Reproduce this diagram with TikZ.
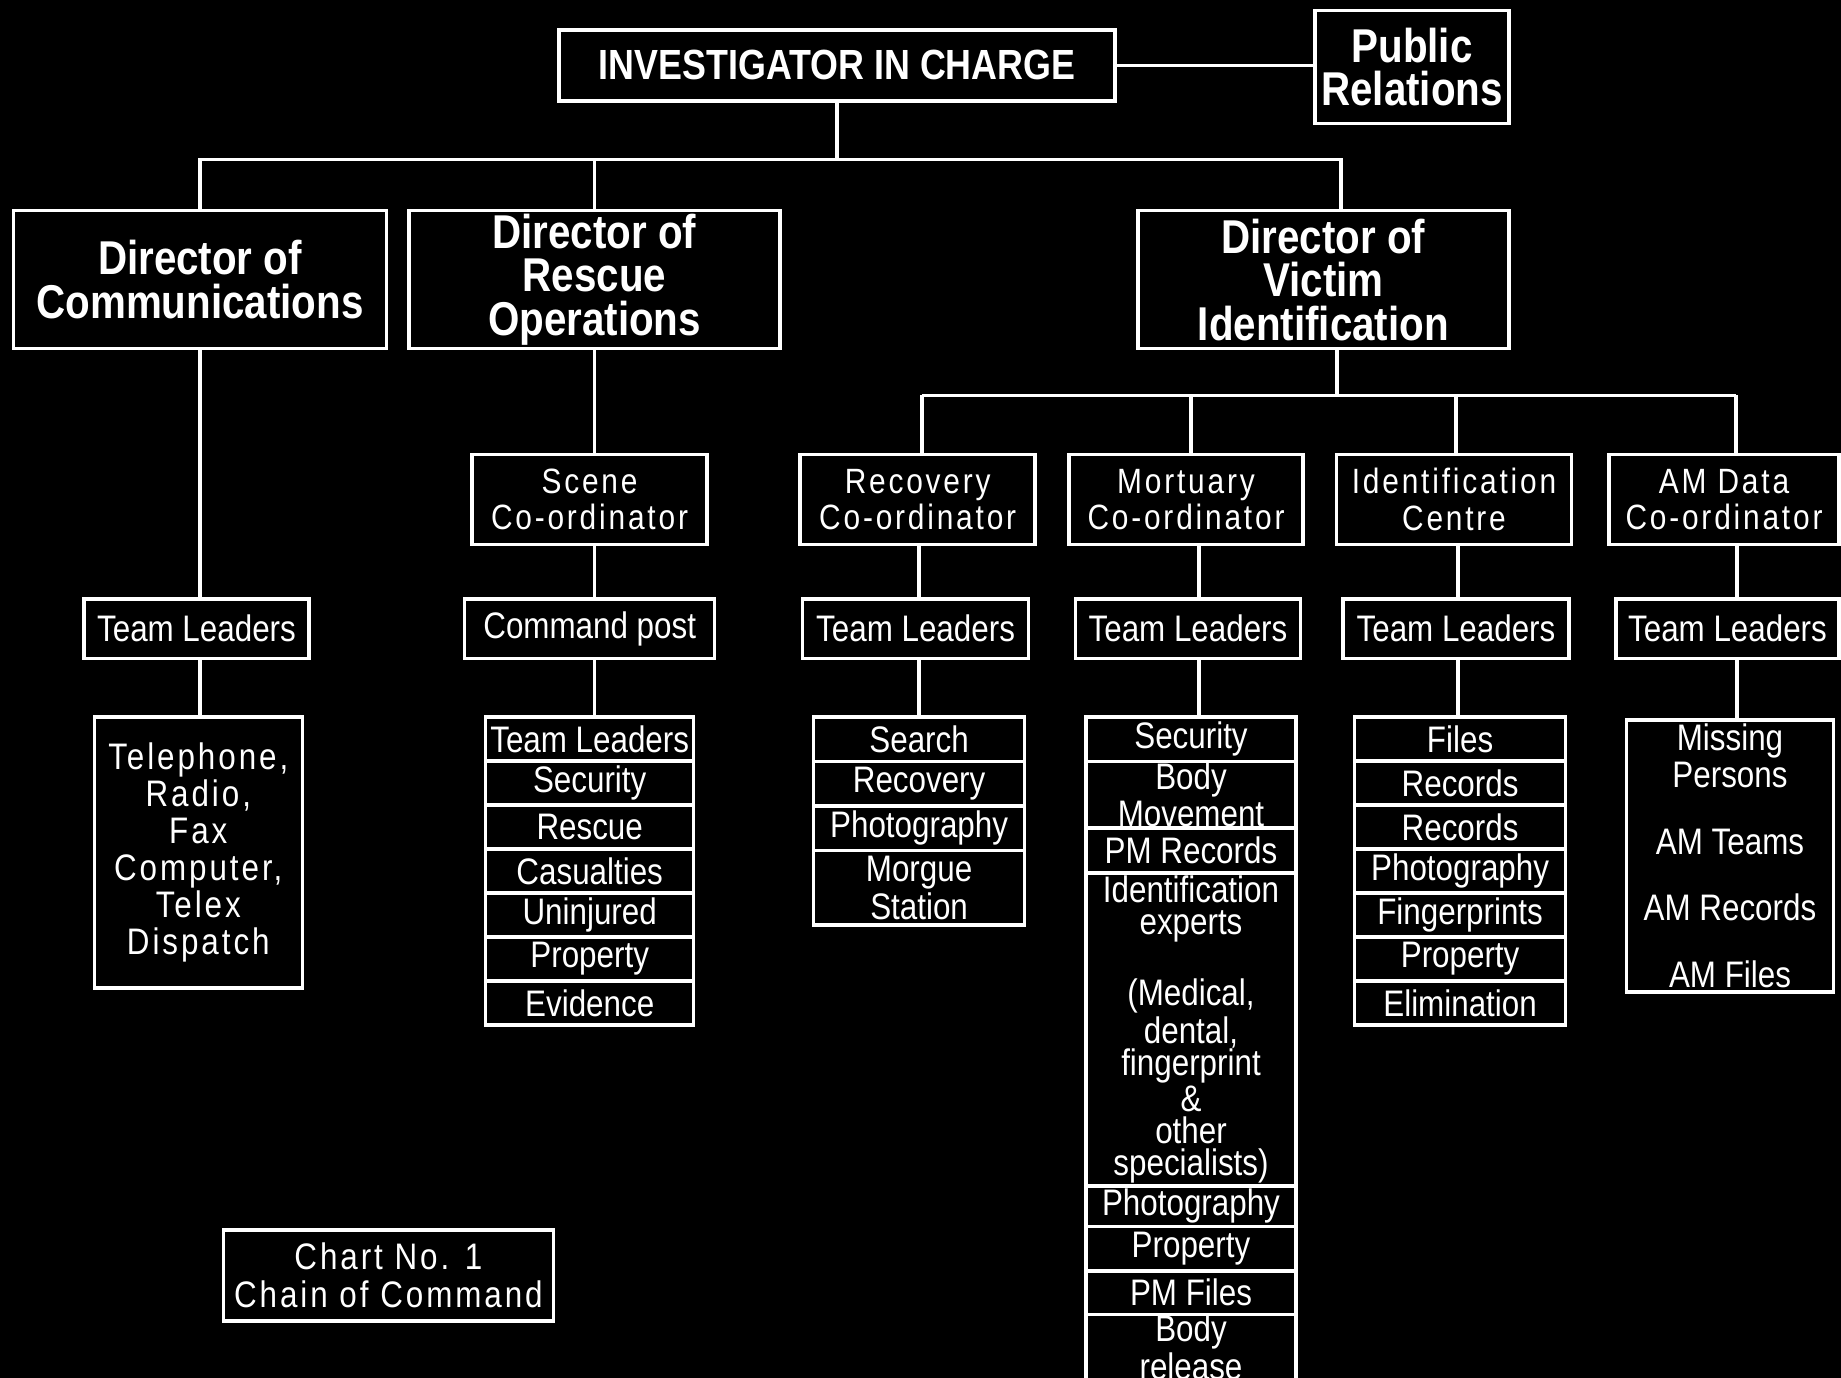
\documentclass[tikz,border=0pt]{standalone}
\usepackage{fontspec}
\setmainfont{Liberation Sans}[FakeStretch=0.85]
\newfontfamily\spaced{Liberation Sans}[FakeStretch=0.85,LetterSpace=8]
\usepackage{tikz}
\usetikzlibrary{positioning}

\tikzset{
  box/.style={draw=white, line width=1pt, text=white, align=center, inner sep=0pt, outer sep=0pt},
  chief/.style={box, font=\bfseries\fontsize{12}{12}\selectfont},
  director/.style={box, font=\bfseries\fontsize{13.5}{12.4}\selectfont, minimum height=1.38cm},
  coord/.style={box, font=\spaced\fontsize{10}{10.4}\selectfont, minimum height=0.90cm},
  leader/.style={box, font=\fontsize{10.5}{9}\selectfont, minimum height=0.595cm},
  item/.style={box, font=\fontsize{10.5}{9}\selectfont},
  link/.style={white, line width=1pt},
}

\begin{document}
\begin{tikzpicture}
  \useasboundingbox (0,0) rectangle (18.41,-13.78);
  \fill[black] (0,0) rectangle (18.41,-13.78);
  \clip (0,0) rectangle (18.41,-13.78);

  %top
  \node[chief, minimum width=5.56cm, minimum height=0.71cm] (iic) at (8.37,-0.654) {INVESTIGATOR IN CHARGE};
  \node[director, minimum width=1.94cm, minimum height=1.13cm] (pr) at (14.12,-0.672) {Public\\Relations};
  \draw[link] (iic.east) -- (iic.east -| pr.west);

  %directors
  \node[director, minimum width=3.73cm] (dc) at (2.00,-2.797) {Director of\\Communications};
  \node[director, minimum width=3.71cm] (dr) at (5.945,-2.797) {Director of\\Rescue\\Operations};
  \node[director, minimum width=3.71cm] (dv) at (13.234,-2.797) {Director of\\Victim\\Identification};

  \coordinate (busR) at (13.41,-1.594);
  \draw[link] (dc.north) |- (busR) -- (busR |- dv.north);
  \draw[link] (dr.north) -- (dr.north |- busR);
  \draw[link] (iic.south) -- (iic.south |- busR);

  %co-ordinators
  \node[coord, minimum width=2.35cm] (sc) at (5.895,-4.996) {Scene\\Co-ordinator};
  \node[coord, minimum width=2.35cm] (rc) at (9.177,-4.996) {Recovery\\Co-ordinator};
  \node[coord, minimum width=2.34cm] (mc) at (11.86,-4.996) {Mortuary\\Co-ordinator};
  \node[coord, minimum width=2.35cm] (ic) at (14.54,-4.996) {Identification\\Centre};
  \node[coord, minimum width=2.30cm] (ac) at (17.24,-4.996) {AM Data\\Co-ordinator};

  %team leaders
  \node[leader, minimum width=2.25cm] (ctl) at (1.965,-6.288) {Team Leaders};
  \node[leader, minimum width=2.50cm] (cp) at (5.897,-6.288) {Command post};
  \node[leader, minimum width=2.26cm] (rtl) at (9.156,-6.288) {Team Leaders};
  \node[leader, minimum width=2.25cm] (mtl) at (11.88,-6.288) {Team Leaders};
  \node[leader, minimum width=2.26cm] (itl) at (14.56,-6.288) {Team Leaders};
  \node[leader, minimum width=2.23cm] (atl) at (17.275,-6.288) {Team Leaders};

  %lists
  \node[box, font=\spaced\fontsize{10.5}{10.5}\selectfont, minimum width=2.08cm, minimum height=2.71cm] (tel) at (1.983,-8.525)
    {Telephone,\\Radio,\\Fax\\Computer,\\Telex\\Dispatch};

  \foreach \t [count=\i] in {Team Leaders,Security,Rescue,Casualties,Uninjured,Property,Evidence}
    \node[item, minimum width=2.08cm, minimum height=0.44cm] (rs\i) at (5.897,{-7.389-0.44*(\i-1)}) {\t};

  \node[item, minimum width=2.11cm, minimum height=0.446cm, anchor=north] (rv1) at (9.191,-7.169) {Search};
  \foreach \t/\h [count=\i from 2] in {Recovery/0.445, Photography/0.445, Morgue\\Station/0.743} {
    \pgfmathtruncatemacro\j{\i-1}
    \node[item, minimum width=2.11cm, minimum height=\h cm, below=0pt of rv\j] (rv\i) {\t};
  }

  \node[item, minimum width=2.10cm, minimum height=0.446cm, anchor=north] (mv1) at (11.91,-7.169) {Security};
  \foreach \t/\h [count=\i from 2] in {Body\\Movement/0.667, PM Records/0.446,
      {Identification\\experts\\[9.5pt](Medical,\\dental,\\fingerprint\\\&\\other\\specialists)}/3.133,
      Photography/0.405, Property/0.446, PM Files/0.431, Body\\release/0.66} {
    \pgfmathtruncatemacro\j{\i-1}
    \node[item, minimum width=2.10cm, minimum height=\h cm, below=0pt of mv\j] (mv\i) {\t};
  }

  \foreach \t [count=\i] in {Files,Records,Records,Photography,Fingerprints,Property,Elimination}
    \node[item, minimum width=2.11cm, minimum height=0.44cm] (iv\i) at (14.601,{-7.389-0.44*(\i-1)}) {\t};

  \node[item, minimum width=2.07cm, minimum height=2.72cm] (am) at (17.30,-8.56)
    {Missing\\Persons\\[10pt]AM Teams\\[10pt]AM Records\\[10pt]AM Files};

  %links down
  \draw[link] (dc.south) -- (dc.south |- ctl.north);
  \draw[link] (dc.south |- ctl.south) -- (dc.south |- tel.north);
  \draw[link] (dr.south) -- (dr.south |- sc.north);
  \draw[link] (dr.south |- sc.south) -- (dr.south |- cp.north);
  \draw[link] (dr.south |- cp.south) -- (dr.south |- rs1.north);

  \coordinate (vb) at (13.37,-3.955);
  \coordinate (vbL) at (9.22,-3.955);
  \coordinate (vbR) at (17.36,-3.955);
  \draw[link] (vb |- dv.south) -- (vb);
  \draw[link] (vbL) -- (vbR);
  \foreach \n/\x in {rc/9.22, mc/11.91, ic/14.56, ac/17.36} {
    \coordinate (t) at (\x,-3.955);
    \draw[link] (t) -- (t |- \n.north);
  }
  \foreach \a/\b/\c/\x in {rc/rtl/rv1/9.19, mc/mtl/mv1/11.99, ic/itl/iv1/14.58, ac/atl/am/17.37} {
    \coordinate (t) at (\x,0);
    \draw[link] (t |- \a.south) -- (t |- \b.north);
    \draw[link] (t |- \b.south) -- (t |- \c.north);
  }

  %chart label
  \node[box, font=\spaced\fontsize{10.5}{10.7}\selectfont, minimum width=3.30cm, minimum height=0.91cm] (chart) at (3.884,-12.754)
    {Chart No. 1\\Chain of Command};
\end{tikzpicture}
\end{document}
